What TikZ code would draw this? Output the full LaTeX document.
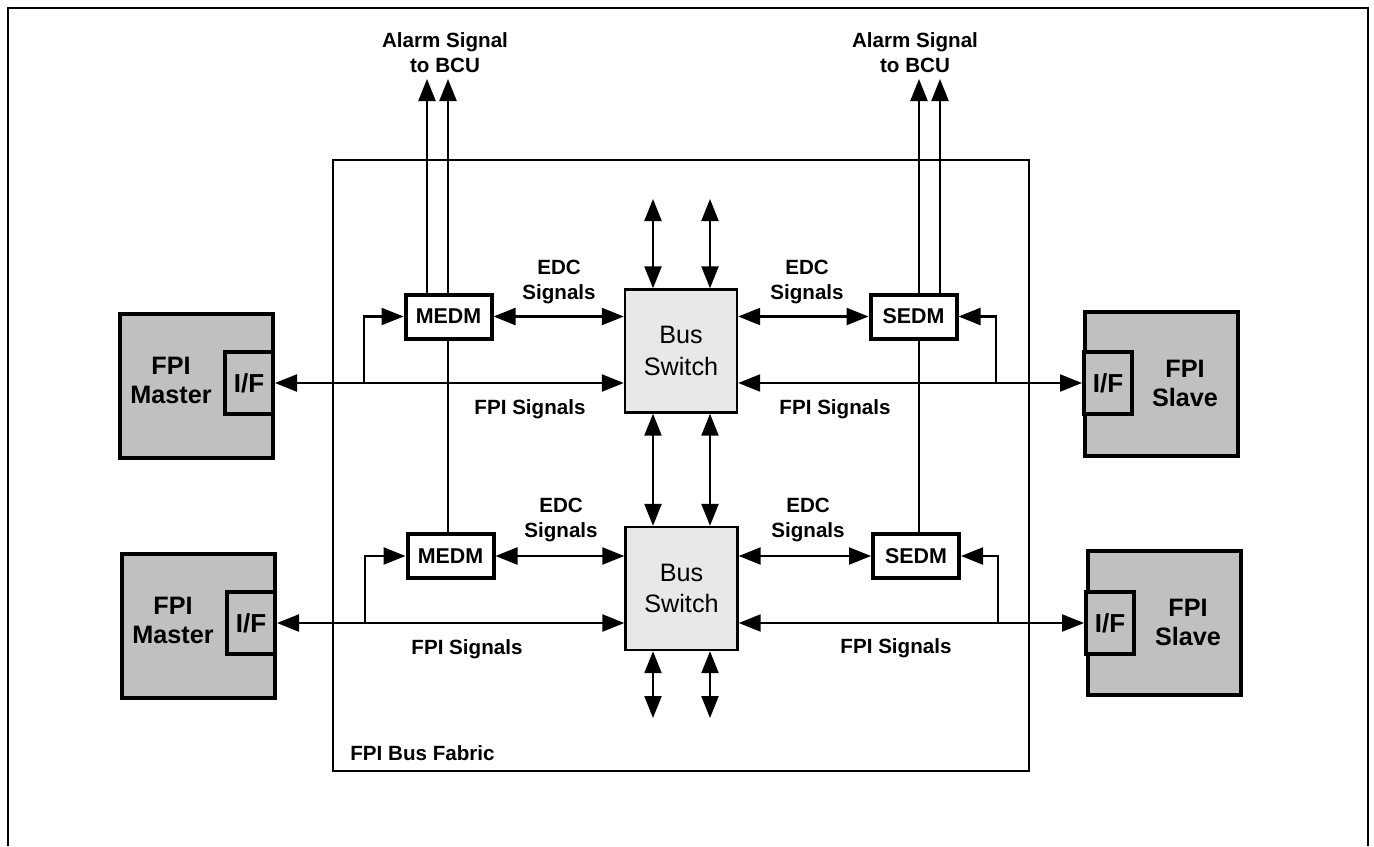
\documentclass[tikz,border=0pt]{standalone}
\usepackage{fontspec}
\setmainfont{Liberation Sans}
\usetikzlibrary{arrows.meta}

\definecolor{hostgray}{HTML}{C0C0C0}
\definecolor{switchgray}{HTML}{E8E8E8}

\tikzset{
  >={Triangle[width=8.5pt,length=11pt]},
  wire/.style={line width=1.15pt},
  hostbox/.style={draw, line width=2pt, fill=hostgray, minimum width=76.5pt, minimum height=72pt, inner sep=0pt},
  ifbox/.style={draw, line width=2pt, fill=hostgray, minimum width=24pt, minimum height=31pt, inner sep=0pt,
    font=\fontsize{13}{15}\selectfont\bfseries},
  edmbox/.style={draw, line width=2pt, fill=white, minimum width=43pt, minimum height=22pt, inner sep=0pt,
    font=\fontsize{10.7}{12}\selectfont\bfseries},
  switchbox/.style={draw, line width=1.2pt, fill=switchgray, minimum width=56pt, minimum height=61.5pt,
    align=center, font=\fontsize{12.6}{15.8}\selectfont},
  hosttext/.style={align=center, inner sep=0pt, font=\fontsize{12.6}{14.5}\selectfont\bfseries},
  sig/.style={align=center, inner sep=0pt, font=\fontsize{10.3}{12.5}\selectfont\bfseries},
}

\begin{document}
\begin{tikzpicture}[x=0.5pt, y=-0.5pt]

\useasboundingbox (0,0) rectangle (1374,846);

% Frame
\draw[line width=1pt] (8,846) -- (8,8) -- (1368,8) -- (1368,846);

% Bus fabric
\draw[wire] (333,160) rectangle (1029,771);
\node[sig, anchor=west] (fabric) at (350,753) {FPI Bus Fabric};

% Masters
\node[hostbox] (mstA) at (196.5,386) {};
\node[ifbox] (ifA) at (249,383) {I/F};
\node[hosttext] (mstAtxt) at (171,380) {FPI\\Master};

\node[hostbox] (mstB) at (198.5,625.5) {};
\node[ifbox] (ifB) at (251,623) {I/F};
\node[hosttext] (mstBtxt) at (173,620) {FPI\\Master};

% Slaves
\node[hostbox] (slvA) at (1161,383.5) {};
\node[ifbox] (ifC) at (1108,383) {I/F};
\node[hosttext] (slvAtxt) at (1185,383) {FPI\\Slave};

\node[hostbox] (slvB) at (1164.5,622.5) {};
\node[ifbox] (ifD) at (1110,623) {I/F};
\node[hosttext] (slvBtxt) at (1188,622) {FPI\\Slave};

% Error detection monitors
\node[edmbox] (medmA) at (448.5,316.5) {MEDM};
\node[edmbox] (medmB) at (450.5,556) {MEDM};
\node[edmbox] (sedmA) at (913.5,316.5) {SEDM};
\node[edmbox] (sedmB) at (916,556) {SEDM};

% Bus switches
\node[switchbox] (swA) at (681,351) {Bus\\Switch};
\node[switchbox] (swB) at (681.5,588.5) {Bus\\Switch};

% Free ends
\coordinate (alA1) at (427,79);
\coordinate (alA2) at (448,79);
\coordinate (alC1) at (919,79);
\coordinate (alC2) at (940,79);
\coordinate (upL) at (653,199);
\coordinate (upR) at (710,199);
\coordinate (dnL) at (653,718);
\coordinate (dnR) at (710,718);
\coordinate (brA) at (364,383);
\coordinate (brB) at (365,623);
\coordinate (brC) at (996,383);
\coordinate (brD) at (998,623);

% FPI signals
\draw[wire,<->] (ifA.east) -- (ifA.east -| swA.west);
\draw[wire,<->] (swA.east |- ifC.west) -- (ifC.west);
\draw[wire,<->] (ifB.east) -- (ifB.east -| swB.west);
\draw[wire,<->] (swB.east |- ifD.west) -- (ifD.west);

% Taps to the monitors
\draw[wire,->] (brA) |- (medmA.west);
\draw[wire,->] (brB) |- (medmB.west);
\draw[wire,->] (brC) |- (sedmA.east);
\draw[wire,->] (brD) |- (sedmB.east);

% EDC signals
\draw[wire,<->] (medmA.east) -- (medmA.east -| swA.west);
\draw[wire,<->] (swA.east |- sedmA.west) -- (sedmA.west);
\draw[wire,<->] (medmB.east) -- (medmB.east -| swB.west);
\draw[wire,<->] (swB.east |- sedmB.west) -- (sedmB.west);

% Alarm signals
\draw[wire,->] (medmA.north -| alA1) -- (alA1);
\draw[wire,->] (medmA.north -| alA2) -- (alA2);
\draw[wire,->] (sedmA.north -| alC1) -- (alC1);
\draw[wire,->] (sedmA.north -| alC2) -- (alC2);
\draw[wire] (medmA.south -| alA2) -- (medmB.north -| alA2);
\draw[wire] (sedmA.south -| alC1) -- (sedmB.north -| alC1);

% Switch ports
\draw[wire,<->] (upL) -- (upL |- swA.north);
\draw[wire,<->] (upR) -- (upR |- swA.north);
\draw[wire,<->] (swA.south -| upL) -- (swB.north -| upL);
\draw[wire,<->] (swA.south -| upR) -- (swB.north -| upR);
\draw[wire,<->] (swB.south -| dnL) -- (dnL);
\draw[wire,<->] (swB.south -| dnR) -- (dnR);

% Labels
\node[sig] (alarmA) at (445,52.5) {Alarm Signal\\to BCU};
\node[sig] (alarmC) at (915,52.5) {Alarm Signal\\to BCU};
\node[sig] (edcA) at (559,282) {EDC\\Signals};
\node[sig] (edcC) at (807,282) {EDC\\Signals};
\node[sig] (edcB) at (561,520) {EDC\\Signals};
\node[sig] (edcD) at (808,520) {EDC\\Signals};
\node[sig] (fpiA) at (530,409) {FPI Signals};
\node[sig] (fpiC) at (835,409) {FPI Signals};
\node[sig] (fpiB) at (467,649) {FPI Signals};
\node[sig] (fpiD) at (896,648) {FPI Signals};

\end{tikzpicture}
\end{document}
